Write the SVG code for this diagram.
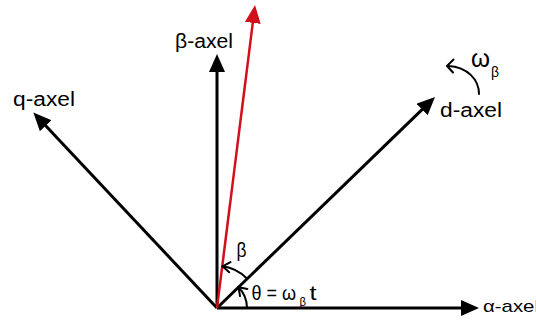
<svg xmlns="http://www.w3.org/2000/svg" width="536" height="320" viewBox="0 0 536 320">
<style>
  .ax { stroke: #000; stroke-width: 3; fill: none; }
  .red { stroke: #d0111b; stroke-width: 2.5; fill: none; }
  .thin { stroke: #000; stroke-width: 2; fill: none; stroke-linecap: round; stroke-linejoin: round; }
  text { font-family: "Liberation Sans", Arial, Helvetica, sans-serif; fill: #000; }
  .lbl { font-size: 20px; }
</style>
<defs>
  <marker id="ah" viewBox="0 0 18 16" refX="1" refY="8" markerWidth="18" markerHeight="16" markerUnits="userSpaceOnUse" orient="auto">
    <path d="M0,0 L18,8 L0,16 z" fill="#000"/>
  </marker>
  <marker id="ahr" viewBox="0 0 18 16" refX="1" refY="8" markerWidth="18" markerHeight="16" markerUnits="userSpaceOnUse" orient="auto">
    <path d="M0,0 L18,8 L0,16 z" fill="#d0111b"/>
  </marker>
</defs>
<g id="connectors">
  <line id="alpha-axis" class="ax" x1="217" y1="308" x2="462" y2="308" marker-end="url(#ah)"/>
  <line id="beta-axis" class="ax" x1="217" y1="308" x2="217" y2="71" marker-end="url(#ah)"/>
  <line id="q-axis" class="ax" x1="217" y1="308" x2="45" y2="125" marker-end="url(#ah)"/>
  <line id="d-axis" class="ax" x1="217" y1="308" x2="422.8" y2="108.8" marker-end="url(#ah)"/>
  <line id="vector" class="red" x1="217" y1="308" x2="252.9" y2="21.9" marker-end="url(#ahr)"/>
  <path id="theta-arc" class="thin" d="M247,308 A30,30 0 0 0 238.6,287.2"/>
  <path class="thin" d="M240,296.1 L238.6,287.2 L247.4,288.9"/>
  <path id="beta-arc" class="thin" d="M247.2,278.8 A42,42 0 0 0 222.5,266.3"/>
  <path class="thin" d="M229.2,272.3 L222.5,266.3 L230.5,262.1"/>
  <path id="omega-arrow" class="thin" d="M479,94 C479,80 468,67 448,66"/>
  <path class="thin" d="M453.5,59.5 L447,66 L453,72.5"/>
</g>
<g id="label-q"><text class="lbl" x="13" y="106" textLength="62" lengthAdjust="spacingAndGlyphs">q-axel</text></g>
<g id="label-beta-axis"><text class="lbl" x="175" y="48" textLength="58" lengthAdjust="spacingAndGlyphs">β-axel</text></g>
<g id="label-d"><text class="lbl" x="440" y="117" textLength="62" lengthAdjust="spacingAndGlyphs">d-axel</text></g>
<g id="label-alpha"><text x="483" y="311.5" font-size="17" textLength="56" lengthAdjust="spacingAndGlyphs">α-axel</text></g>
<g id="label-omega">
  <text x="471" y="67" font-size="26" textLength="19" lengthAdjust="spacingAndGlyphs">ω</text>
  <text x="491" y="77" font-size="14" textLength="8" lengthAdjust="spacingAndGlyphs">β</text>
</g>
<g id="label-beta-angle"><text x="236.5" y="256.5" font-size="20" textLength="10" lengthAdjust="spacingAndGlyphs">β</text></g>
<g id="label-theta">
  <text x="251.5" y="300" font-size="20" textLength="44.5" lengthAdjust="spacingAndGlyphs">θ = ω</text>
  <text x="299.5" y="306" font-size="12" textLength="6.5" lengthAdjust="spacingAndGlyphs">β</text>
  <text x="309.5" y="300" font-size="20" textLength="7" lengthAdjust="spacingAndGlyphs">t</text>
</g>
</svg>
